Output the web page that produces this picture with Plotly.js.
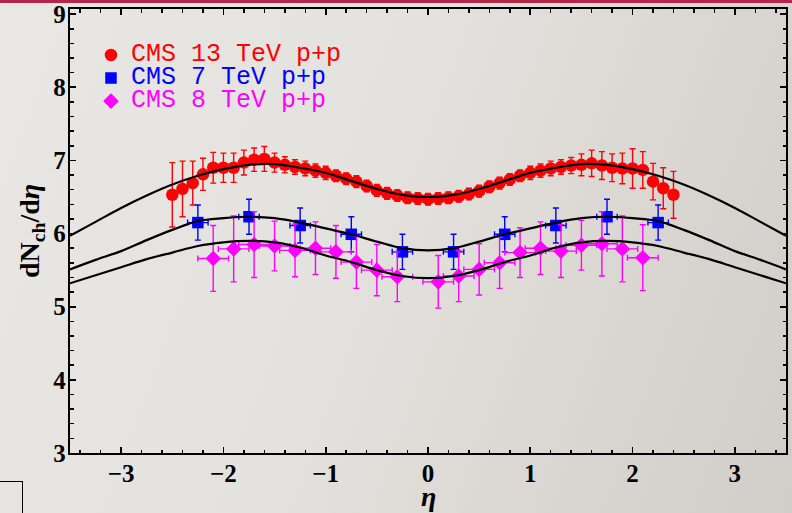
<!DOCTYPE html>
<html><head><meta charset="utf-8">
<script src="https://cdn.plot.ly/plotly-3.0.1.min.js"></script>
<style>
html,body{margin:0;padding:0;width:792px;height:513px;overflow:hidden;}
body{background:linear-gradient(110deg,#e9e7e3 0%,#e4e2de 45%,#d1cdc8 100%);position:relative;}
#topbar{position:absolute;left:0;top:0;width:792px;height:3px;background:#b8234a;}
#box{position:absolute;left:-2px;top:481px;width:23px;height:40px;border:1.5px solid #000;}
#chart{position:absolute;left:0;top:0;width:792px;height:513px;}
</style></head>
<body>
<div id="chart"></div><div id="topbar"></div><div id="box"></div>
<script>
// CMS 13 TeV p+p
const eta13 = [-2.5,-2.4,-2.3,-2.2,-2.1,-2.0,-1.9,-1.8,-1.7,-1.6,-1.5,-1.4,-1.3,-1.2,-1.1,-1.0,-0.9,-0.8,-0.7,-0.6,-0.5,-0.4,-0.3,-0.2,-0.1,0.0,0.1,0.2,0.3,0.4,0.5,0.6,0.7,0.8,0.9,1.0,1.1,1.2,1.3,1.4,1.5,1.6,1.7,1.8,1.9,2.0,2.1,2.2,2.3,2.4];
const val13 = [6.53,6.61,6.69,6.81,6.90,6.90,6.90,6.97,7.01,7.02,6.97,6.94,6.91,6.89,6.86,6.83,6.79,6.75,6.71,6.65,6.59,6.55,6.52,6.49,6.48,6.47,6.48,6.49,6.51,6.54,6.58,6.64,6.69,6.74,6.79,6.83,6.86,6.89,6.91,6.93,6.94,6.96,6.93,6.90,6.89,6.89,6.87,6.71,6.62,6.53];
const err13 = [0.44,0.38,0.30,0.22,0.21,0.20,0.20,0.17,0.16,0.17,0.13,0.11,0.10,0.10,0.09,0.09,0.08,0.08,0.08,0.08,0.08,0.08,0.08,0.08,0.08,0.08,0.08,0.08,0.08,0.08,0.08,0.08,0.08,0.08,0.08,0.09,0.09,0.10,0.10,0.11,0.15,0.18,0.19,0.19,0.21,0.27,0.25,0.25,0.28,0.32];
// CMS 7 TeV p+p
const eta7 = [-2.25,-1.75,-1.25,-0.75,-0.25,0.25,0.75,1.25,1.75,2.25];
const val7 = [6.15,6.23,6.11,5.99,5.75,5.75,5.99,6.11,6.23,6.15];
const err7 = [0.24,0.24,0.24,0.24,0.24,0.24,0.24,0.24,0.24,0.24];
const xerr7 = [0.1,0.1,0.1,0.1,0.1,0.1,0.1,0.1,0.1,0.1];
// CMS 8 TeV p+p
const eta8 = [-2.1,-1.9,-1.7,-1.5,-1.3,-1.1,-0.9,-0.7,-0.5,-0.3,0.1,0.3,0.5,0.7,0.9,1.1,1.3,1.5,1.7,1.9,2.1];
const val8 = [5.66,5.79,5.85,5.83,5.77,5.80,5.75,5.61,5.50,5.41,5.34,5.42,5.51,5.60,5.74,5.80,5.76,5.84,5.86,5.79,5.67];
const err8 = [0.45,0.45,0.45,0.34,0.36,0.36,0.36,0.36,0.35,0.34,0.36,0.35,0.35,0.35,0.34,0.36,0.36,0.34,0.44,0.45,0.45];
const xerr8 = [0.15,0.15,0.15,0.15,0.15,0.15,0.15,0.15,0.15,0.15,0.15,0.15,0.15,0.15,0.15,0.15,0.15,0.15,0.15,0.15,0.15];
// model curves
const etaCurve = [-3.5,-3.25,-3.0,-2.75,-2.5,-2.25,-2.0,-1.75,-1.5,-1.25,-1.0,-0.75,-0.5,-0.25,0,0.25,0.5,0.75,1.0,1.25,1.5,1.75,2.0,2.25,2.5,2.75,3.0,3.25,3.5];
const curve13 = [5.97,6.16,6.35,6.52,6.67,6.79,6.88,6.94,6.95,6.90,6.83,6.72,6.61,6.53,6.50,6.53,6.61,6.72,6.83,6.90,6.95,6.94,6.88,6.79,6.67,6.52,6.35,6.16,5.97];
const curve7 = [5.51,5.64,5.76,5.91,6.05,6.17,6.21,6.23,6.21,6.15,6.07,5.99,5.89,5.80,5.77,5.80,5.89,5.99,6.07,6.15,6.21,6.23,6.21,6.17,6.05,5.91,5.76,5.64,5.51];
const curve8 = [5.32,5.43,5.54,5.65,5.74,5.83,5.88,5.90,5.88,5.81,5.70,5.61,5.50,5.42,5.39,5.42,5.50,5.61,5.70,5.81,5.88,5.90,5.88,5.83,5.74,5.65,5.54,5.43,5.32];

const names = ['CMS 13 TeV p+p','CMS 7 TeV p+p','CMS 8 TeV p+p'];
const colors = ['#ff0000','#0000ff','#ff00ff'];
const legName = (i) => '<span style="font-size:25px;fill:' + colors[i] + '">' + names[i] + '</span>';

const traces = [
  {x: eta13, y: val13, type: 'scatter', mode: 'markers', name: legName(0),
   marker: {symbol: 'circle', size: 12.5, color: colors[0], line: {width: 0}},
   error_y: {type: 'data', array: err13, visible: true, color: colors[0], thickness: 1.4, width: 3}},
  {x: eta7, y: val7, type: 'scatter', mode: 'markers', name: legName(1),
   marker: {symbol: 'square', size: 11.5, color: colors[1], line: {width: 0}},
   error_y: {type: 'data', array: err7, visible: true, color: colors[1], thickness: 1.4, width: 3},
   error_x: {type: 'data', array: xerr7, visible: true, color: colors[1], thickness: 1.4, width: 3}},
  {x: eta8, y: val8, type: 'scatter', mode: 'markers', name: legName(2),
   marker: {symbol: 'diamond', size: 12, color: colors[2], line: {width: 0}},
   error_y: {type: 'data', array: err8, visible: true, color: colors[2], thickness: 1.4, width: 3},
   error_x: {type: 'data', array: xerr8, visible: true, color: colors[2], thickness: 1.4, width: 3}},
  {x: etaCurve, y: curve13, type: 'scatter', mode: 'lines', showlegend: false, hoverinfo: 'skip',
   line: {color: '#000', width: 2.2, shape: 'spline', smoothing: 1}},
  {x: etaCurve, y: curve7, type: 'scatter', mode: 'lines', showlegend: false, hoverinfo: 'skip',
   line: {color: '#000', width: 2.2, shape: 'spline', smoothing: 1}},
  {x: etaCurve, y: curve8, type: 'scatter', mode: 'lines', showlegend: false, hoverinfo: 'skip',
   line: {color: '#000', width: 2.2, shape: 'spline', smoothing: 1}}
];

const tickFont = {family: 'Liberation Serif, Times New Roman, serif', size: 25, color: '#000', weight: 'bold'};
const axisCommon = {
  showline: true, linecolor: '#000', linewidth: 2.2, mirror: 'allticks',
  ticks: 'inside', ticklen: 6, tickwidth: 1.8, tickcolor: '#000',
  showgrid: false, zeroline: false, tickfont: tickFont,
  minor: {dtick: 0.2, ticks: 'inside', ticklen: 3.5, tickwidth: 1.5, tickcolor: '#000', showgrid: false}
};

const layout = {
  width: 792, height: 513,
  margin: {l: 70, r: 6, t: 9, b: 60},
  paper_bgcolor: 'rgba(0,0,0,0)', plot_bgcolor: 'rgba(0,0,0,0)',
  showlegend: true,
  legend: {x: 0.0293, y: 0.9335, xanchor: 'left', yanchor: 'top', bgcolor: 'rgba(0,0,0,0)',
           borderwidth: 0, font: {family: 'Liberation Mono, Courier New, monospace', size: 15.4, color: '#000'},
           tracegroupgap: 0},
  xaxis: Object.assign({}, axisCommon, {range: [-3.5, 3.5], dtick: 1, tick0: 0, ticklabelstandoff: -3}),
  yaxis: Object.assign({}, axisCommon, {range: [3, 9.07], dtick: 1, tick0: 0, ticklabelstandoff: -3}),
  annotations: [
    {xref: 'paper', yref: 'paper', x: -0.0545, y: 0.5, xanchor: 'center', yanchor: 'middle', textangle: -90,
     showarrow: false, text: 'dN<sub>ch</sub>/d<i>η</i>',
     font: {family: 'Liberation Serif, Times New Roman, serif', size: 28, color: '#000', weight: 'bold'}},
    {xref: 'paper', yref: 'paper', x: 0.5, y: -0.0975, xanchor: 'center', yanchor: 'middle',
     showarrow: false, text: '<i>η</i>',
     font: {family: 'Liberation Serif, Times New Roman, serif', size: 28, color: '#000', weight: 'bold'}}
  ]
};

Plotly.newPlot('chart', traces, layout, {displayModeBar: false, staticPlot: true});
</script>
</body></html>
